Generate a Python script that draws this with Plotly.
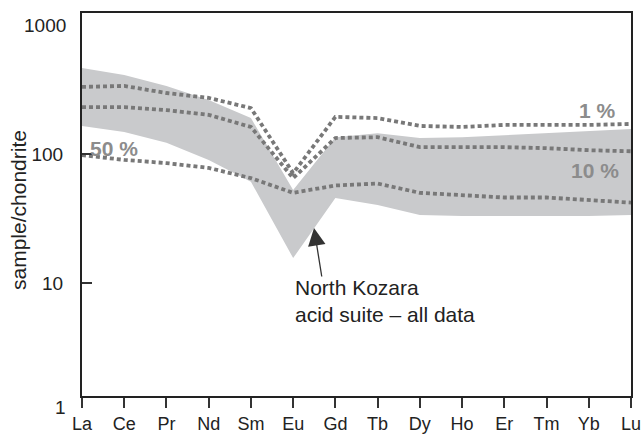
import plotly.graph_objects as go

elements = ["La", "Ce", "Pr", "Nd", "Sm", "Eu", "Gd", "Tb", "Dy", "Ho", "Er", "Tm", "Yb", "Lu"]

# grey field: North Kozara acid suite - all data (upper and lower envelope)
band_upper = [464, 410, 337, 262, 190, 52.6, 135, 145, 133, 135, 140, 145, 151, 156]
band_lower = [165, 148, 122, 90, 61, 15.6, 45.6, 40.2, 33.7, 33.1, 33.1, 33.1, 33.1, 33.7]

# melting curves (dotted)
melt_1 = [331, 337, 297, 272, 227, 71, 194, 190, 165, 162, 168, 168, 168, 171]
melt_10 = [231, 231, 219, 201, 162, 65, 133, 135, 113, 113, 113, 111, 107, 105]
melt_50 = [98, 90, 85, 78, 65, 50, 57, 59, 50, 48, 46, 46, 44, 42]

curve_labels = ["1 %", "10 %", "50 %"]
y_tick_vals = [10, 100]
y_tick_text = ["10", "100"]
extra_y_labels = ["1000", "1"]

xs = list(range(len(elements)))
FONT = "Arial, Liberation Sans, sans-serif"
LINE_COL = "#787878"
TXT = "#222"

fig = go.Figure()
fig.add_trace(go.Scatter(
    x=xs + xs[::-1], y=band_upper + band_lower[::-1],
    fill="toself", fillcolor="#c9cacc", line=dict(width=0),
    mode="lines", hoverinfo="skip", showlegend=False))

for series in (melt_1, melt_10, melt_50):
    fig.add_trace(go.Scatter(
        x=xs, y=series, mode="lines",
        line=dict(color=LINE_COL, width=3.8, dash="4px,3px"),
        showlegend=False))

fig.update_layout(
    width=641, height=435,
    margin=dict(l=82, r=10, t=13, b=39),
    paper_bgcolor="white", plot_bgcolor="white",
    font=dict(family=FONT, size=19, color=TXT),
    xaxis=dict(
        range=[0, len(elements) - 1], tickvals=xs, ticktext=elements,
        ticks="outside", ticklen=10, tickwidth=1.5, tickcolor="#333",
        showline=True, mirror=True, linecolor="#222", linewidth=2,
        showgrid=False, zeroline=False, ticklabelstandoff=0, automargin=False,
        ticklabeloverflow="allow",
        tickfont=dict(size=18, family=FONT, color=TXT)),
    yaxis=dict(
        type="log", range=[0.124, 3.093],
        tickvals=y_tick_vals, ticktext=y_tick_text,
        ticks="inside", ticklen=10, tickwidth=1.5, tickcolor="#333",
        showline=True, mirror=True, linecolor="#222", linewidth=2,
        showgrid=False, zeroline=False, ticklabelstandoff=13, automargin=False,
        tickfont=dict(size=19, family=FONT, color=TXT)),
)

def paper_x(px):
    return (px - 82) / 549.0

def paper_y(py):
    return (396 - py) / 383.0

LBL = dict(size=21, family=FONT, color="#8c8c8c", weight="bold")
annotations = [
    # y-axis title
    dict(text="sample/chondrite", textangle=-90, xref="paper", yref="paper",
         x=paper_x(18), y=paper_y(210), xanchor="center", yanchor="middle",
         showarrow=False, font=dict(size=21, family=FONT, color=TXT)),
    # "1000" label at top of y-axis, "1" label at bottom
    dict(text=extra_y_labels[0], xref="paper", yref="paper",
         x=paper_x(68), y=paper_y(25), xanchor="right", yanchor="middle", showarrow=False,
         font=dict(size=19, family=FONT, color=TXT)),
    dict(text=extra_y_labels[1], xref="paper", yref="paper",
         x=paper_x(68), y=paper_y(407), xanchor="right", yanchor="middle", showarrow=False,
         font=dict(size=19, family=FONT, color=TXT)),
    # curve labels
    dict(text=curve_labels[0], xref="paper", yref="paper", x=paper_x(597), y=paper_y(111),
         xanchor="center", yanchor="middle", showarrow=False, font=LBL),
    dict(text=curve_labels[1], xref="paper", yref="paper", x=paper_x(595), y=paper_y(170),
         xanchor="center", yanchor="middle", showarrow=False, font=LBL),
    dict(text=curve_labels[2], xref="paper", yref="paper", x=paper_x(114), y=paper_y(148),
         xanchor="center", yanchor="middle", showarrow=False, font=LBL),
    # field label
    dict(text="North Kozara<br>acid suite – all data", xref="paper", yref="paper",
         x=paper_x(293), y=paper_y(301), xanchor="left", yanchor="middle", align="left",
         showarrow=False, font=dict(size=21, family=FONT, color=TXT)),
    # arrow
    dict(text="", xref="paper", yref="paper", x=paper_x(314), y=paper_y(228),
         ax=8, ay=50, showarrow=True, arrowhead=2, arrowsize=2.7, arrowwidth=1.3,
         arrowcolor="#333"),
]
fig.update_layout(annotations=annotations)

fig.write_html(
    "out.html",
    config={"displayModeBar": False},
    post_script="document.body.style.margin='0';document.body.style.overflow='hidden';",
)
